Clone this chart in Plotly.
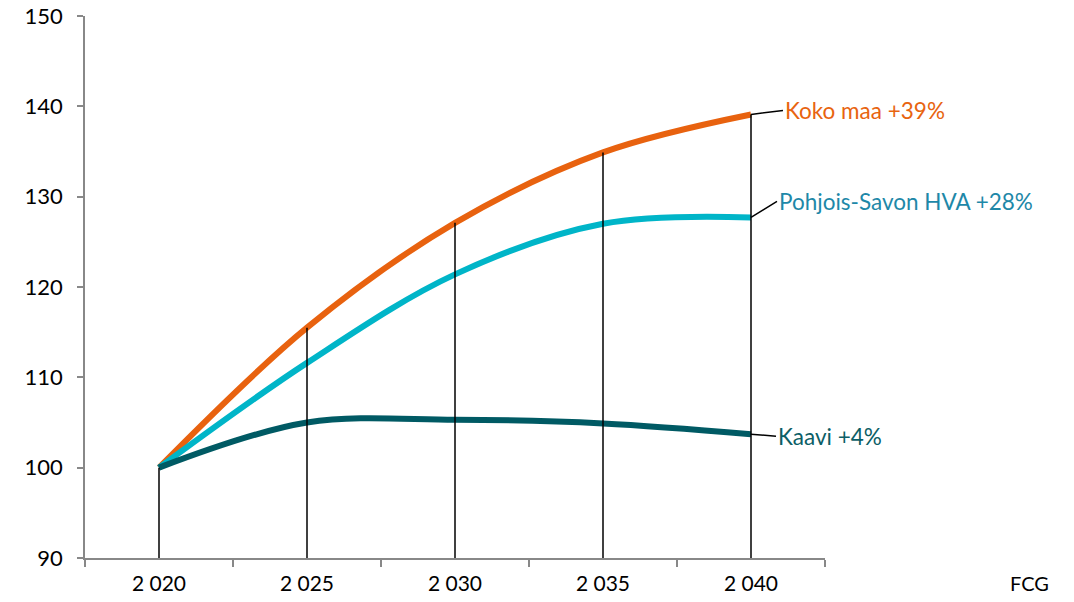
import plotly.graph_objects as go

years = ["2 020", "2 025", "2 030", "2 035", "2 040"]
koko_maa = [100, 115.5, 127.1, 134.9, 139.1]
pohjois_savo = [100, 111.6, 121.4, 127.0, 127.7]
kaavi = [100, 105.0, 105.3, 104.9, 103.7]

series = [
    ("Koko maa +39%", koko_maa, "#E8620F", "#E8640F", 32, -4),
    ("Pohjois-Savon HVA +28%", pohjois_savo, "#00B5C8", "#1E88A8", 26, -16),
    ("Kaavi +4%", kaavi, "#005A64", "#0C5E66", 25, 2),
]

fig = go.Figure()
for name, vals, col, _, _, _ in series:
    fig.add_trace(go.Scatter(x=years, y=vals, mode="lines", name=name,
                             line=dict(color=col, width=6, shape="spline", smoothing=1.0),
                             hoverinfo="skip"))

# drop lines from highest series to axis
top = [max(a, b, c) for a, b, c in zip(koko_maa, pohjois_savo, kaavi)]
for cat, t in zip(years, top):
    fig.add_trace(go.Scatter(x=[cat, cat], y=[90, t], mode="lines",
                             line=dict(color="black", width=1.5), hoverinfo="skip"))

for name, vals, _, tcol, ax, ay in series:
    fig.add_annotation(x=years[-1], y=vals[-1], text=name, showarrow=True,
                       arrowhead=0, arrowwidth=1.5, arrowcolor="black",
                       ax=ax, ay=ay, xanchor="left", yanchor="middle",
                       font=dict(color=tcol, size=22.5, family="Lato"))

fig.add_annotation(x=1.277, y=-0.046, xref="paper", yref="paper", text="FCG",
                   showarrow=False, font=dict(size=20, color="black", family="Lato"),
                   xanchor="center", yanchor="middle")

fig.update_layout(
    width=1074, height=602,
    margin=dict(l=85, r=249, t=16, b=44),
    paper_bgcolor="white", plot_bgcolor="white",
    showlegend=False,
    font=dict(family="Lato", size=20, color="black"),
)
fig.update_xaxes(type="category", range=[-0.5, 4.5], tickson="boundaries",
                 ticks="outside", ticklen=7, tickcolor="#888888", tickwidth=1.5,
                 showline=True, linecolor="#888888", linewidth=1.5,
                 showgrid=False, zeroline=False, tickfont=dict(size=21),
                 ticklabelstandoff=6, automargin=False)
fig.update_yaxes(range=[90, 150], dtick=10, ticks="outside", ticklen=6,
                 tickcolor="#888888", tickwidth=1.5, showline=True,
                 linecolor="#888888", linewidth=1.5, showgrid=False,
                 zeroline=False, tickfont=dict(size=22),
                 ticklabelstandoff=10, automargin=False)

fig.write_html("out.html", config={"displayModeBar": False},
               post_script="document.body.style.margin='0';")
